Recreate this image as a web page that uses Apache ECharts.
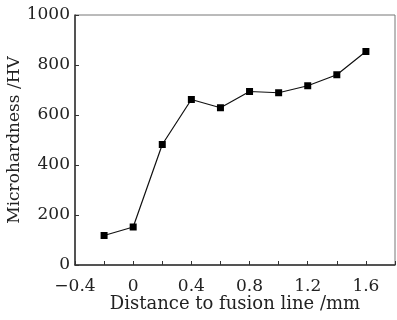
<!DOCTYPE html>
<html><head><meta charset="utf-8">
<script src="https://cdn.jsdelivr.net/npm/echarts@6/dist/echarts.min.js"></script>
<style>html,body{margin:0;padding:0;background:#fff}#c{width:397px;height:320px}</style>
</head><body><div id="c"></div>
<script>
const distance = [-0.2, 0, 0.2, 0.4, 0.6, 0.8, 1.0, 1.2, 1.4, 1.6];
const hardness = [118, 152, 482, 662, 629, 694, 689, 717, 761, 854];
const xTicks = [-0.4, 0, 0.4, 0.8, 1.2, 1.6];
const yTicks = [0, 200, 400, 600, 800, 1000];
const xName = 'Distance to fusion line /mm';
const yName = 'Microhardness /HV';

const font = '"DejaVu Serif","Liberation Serif",serif';
const chart = echarts.init(document.getElementById('c'), null, {renderer:'canvas'});
chart.setOption({
  animation: false,
  grid: {left: 75, top: 15, right: 2, bottom: 55, show: true, borderColor: '#777', borderWidth: 1,
         containLabel: false, outerBoundsMode: 'none'},
  xAxis: {
    type: 'value', min: -0.4, max: 1.8, interval: 0.2,
    name: xName, nameLocation: 'middle', nameGap: 30, nameMoveOverlap: false,
    nameTextStyle: {fontFamily: font, fontSize: 18, color: '#222'},
    axisLine: {show: true, onZero: false, lineStyle: {color: '#333', width: 1.5}},
    axisTick: {show: true, inside: true, length: 4, lineStyle: {color: '#333'},
      interval: function(i, v){ return xTicks.some(t => Math.abs(t - v) < 1e-6); }},
    splitLine: {show: false},
    axisLabel: {margin: 13, fontFamily: font, fontSize: 17, color: '#222',
      formatter: function(v){
        const t = xTicks.find(t => Math.abs(t - v) < 1e-6);
        if (t === undefined) return '';
        return t < 0 ? '\u2212' + Math.abs(t) : String(t);
      }}
  },
  yAxis: {
    type: 'value', min: 0, max: 1000, interval: 200,
    name: yName, nameLocation: 'middle', nameGap: 52, nameMoveOverlap: false,
    nameTextStyle: {fontFamily: font, fontSize: 17, color: '#222'},
    axisLine: {show: true, onZero: false, lineStyle: {color: '#333', width: 1.5}},
    axisTick: {show: true, inside: true, length: 4, lineStyle: {color: '#333'}},
    splitLine: {show: false},
    axisLabel: {margin: 5, fontFamily: font, fontSize: 17, color: '#222',
      formatter: function(v){ return yTicks.includes(v) ? String(v) : ''; }}
  },
  series: [{
    type: 'line',
    data: distance.map((d, i) => [d, hardness[i]]),
    symbol: 'rect', symbolSize: 7,
    lineStyle: {color: '#111', width: 1.2},
    itemStyle: {color: '#000'}
  }]
});
</script></body></html>
